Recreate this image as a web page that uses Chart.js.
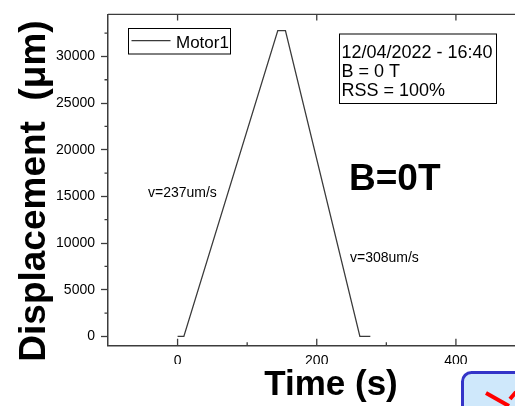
<!DOCTYPE html>
<html>
<head>
<meta charset="utf-8">
<script src="https://cdn.jsdelivr.net/npm/chart.js@4"></script>
<style>
  html, body { margin: 0; padding: 0; background: #fff; overflow: hidden; }
  #wrap { width: 560px; height: 406px; }
</style>
</head>
<body>
<div id="wrap"><canvas id="motorChart" width="560" height="406"></canvas></div>
<script>
// ─── Data ─────────────────────────────────────────────────────────────────────
const timeS          = [0, 9, 144, 155, 262, 277];
const displacementUm = [0, 0, 32770, 32770, 0, 0];

const xMajorTicks = [0, 200, 400];
const xMinorTicks = [100, 300];
const yMajorTicks = [0, 5000, 10000, 15000, 20000, 25000, 30000];
const yMinorTicks = [2500, 7500, 12500, 17500, 22500, 27500, 32500];

const seriesName = 'Motor1';
const infoLines  = ['12/04/2022 - 16:40', 'B = 0 T', 'RSS = 100%'];
const slopeNotes = ['v=237um/s', 'v=308um/s'];
const fieldLabel = 'B=0T';
const xTitle     = 'Time (s)';
const yTitle     = 'Displacement  (μm)';

const FONT     = 'Arial, "Liberation Sans", sans-serif';
const AXIS_CLR = '#3c3c3c';
const LINE_CLR = '#3a3a3a';

// ─── Extra drawing: ticks, frame, labels, boxes ───────────────────────────────
const decorPlugin = {
  id: 'decor',
  afterDraw(chart) {
    const { ctx, chartArea: a, scales: { x, y } } = chart;
    ctx.save();

    // clip the tick labels like the original export
    ctx.fillStyle = '#fff';
    ctx.fillRect(0, 364, chart.width, 8);

    ctx.strokeStyle = AXIS_CLR;
    ctx.lineWidth = 1.3;

    // top frame line
    ctx.beginPath();
    ctx.moveTo(a.left, a.top);
    ctx.lineTo(a.right, a.top);
    ctx.stroke();

    ctx.beginPath();
    xMajorTicks.forEach(v => {
      const px = x.getPixelForValue(v);
      ctx.moveTo(px, a.bottom); ctx.lineTo(px, a.bottom - 7);
      ctx.moveTo(px, a.top);    ctx.lineTo(px, a.top + 6);
    });
    xMinorTicks.forEach(v => {
      const px = x.getPixelForValue(v);
      ctx.moveTo(px, a.bottom); ctx.lineTo(px, a.bottom - 3.5);
    });
    yMinorTicks.forEach(v => {
      const py = y.getPixelForValue(v);
      ctx.moveTo(a.left, py); ctx.lineTo(a.left - 3.5, py);
    });
    ctx.stroke();

    // legend box
    ctx.lineWidth = 1;
    ctx.strokeStyle = '#000';
    ctx.strokeRect(128.5, 28.5, 102, 25.5);
    ctx.strokeStyle = chart.data.datasets[0].borderColor;
    ctx.lineWidth = 1.3;
    ctx.beginPath();
    ctx.moveTo(131.5, 40.7); ctx.lineTo(170.5, 40.7);
    ctx.stroke();
    ctx.fillStyle = '#000';
    ctx.font = `17px ${FONT}`;
    ctx.textAlign = 'left';
    ctx.textBaseline = 'alphabetic';
    ctx.fillText(chart.data.datasets[0].label, 176, 48.3);

    // info box
    ctx.strokeStyle = '#000';
    ctx.lineWidth = 1;
    ctx.strokeRect(339.5, 34, 157, 69.5);
    ctx.font = `18px ${FONT}`;
    infoLines.forEach((t, i) => ctx.fillText(t, 341.5, 57.5 + i * 19));

    // slope notes
    ctx.font = `14px ${FONT}`;
    ctx.fillText(slopeNotes[0], 148, 197);
    ctx.fillText(slopeNotes[1], 350, 262);

    // big field label
    ctx.font = `bold 37px ${FONT}`;
    ctx.fillText(fieldLabel, 349, 190);

    // axis titles
    ctx.font = `bold 35px ${FONT}`;
    ctx.textAlign = 'center';
    ctx.fillText(xTitle, 331, 395);

    ctx.save();
    ctx.translate(45, 191);
    ctx.rotate(-Math.PI / 2);
    ctx.font = `bold 37px ${FONT}`;
    ctx.fillText(yTitle, 0, 0);
    ctx.restore();

    // overlapping window corner at bottom right
    ctx.beginPath();
    ctx.roundRect(462.5, 372.5, 120, 80, 9);
    ctx.fillStyle = '#cfe8fb';
    ctx.fill();
    ctx.strokeStyle = '#3434c8';
    ctx.lineWidth = 3;
    ctx.stroke();
    ctx.strokeStyle = '#ff0000';
    ctx.lineWidth = 4;
    ctx.beginPath();
    ctx.moveTo(486, 393); ctx.lineTo(509, 406);
    ctx.moveTo(510, 399); ctx.lineTo(516, 392);
    ctx.stroke();

    ctx.restore();
  },
};

// ─── Chart ────────────────────────────────────────────────────────────────────
new Chart(document.getElementById('motorChart'), {
  type: 'line',
  data: {
    datasets: [{
      label: seriesName,
      data: timeS.map((t, i) => ({ x: t, y: displacementUm[i] })),
      borderColor: LINE_CLR,
      borderWidth: 1.3,
      pointRadius: 0,
      tension: 0,
      fill: false,
    }],
  },
  options: {
    responsive: false,
    animation: false,
    devicePixelRatio: 1,
    layout: { padding: { left: 0, top: 10, right: 34.5, bottom: 0 } },
    plugins: { legend: { display: false }, tooltip: { enabled: false } },
    scales: {
      x: {
        type: 'linear',
        min: -100,
        max: 500,
        afterBuildTicks: s => { s.ticks = xMajorTicks.map(v => ({ value: v })); },
        afterFit: s => { s.height = 60.3; },
        grid: { display: true, drawOnChartArea: false, drawTicks: false },
        border: { display: true, color: AXIS_CLR, width: 1.5 },
        ticks: { padding: 7, color: '#000', font: { family: FONT, size: 14 }, maxRotation: 0,
                 callback: v => String(v) },
      },
      y: {
        type: 'linear',
        min: -1000,
        max: 34500,
        afterBuildTicks: s => { s.ticks = yMajorTicks.map(v => ({ value: v })); },
        afterFit: s => { s.width = 108; },
        grid: { display: true, drawOnChartArea: false, drawTicks: true, tickLength: 7, tickColor: AXIS_CLR, tickWidth: 1.3 },
        border: { display: true, color: AXIS_CLR, width: 1.5 },
        ticks: { padding: 6, color: '#000', font: { family: FONT, size: 14 },
                 callback: v => String(v) },
      },
    },
  },
  plugins: [decorPlugin],
});
</script>
</body>
</html>
